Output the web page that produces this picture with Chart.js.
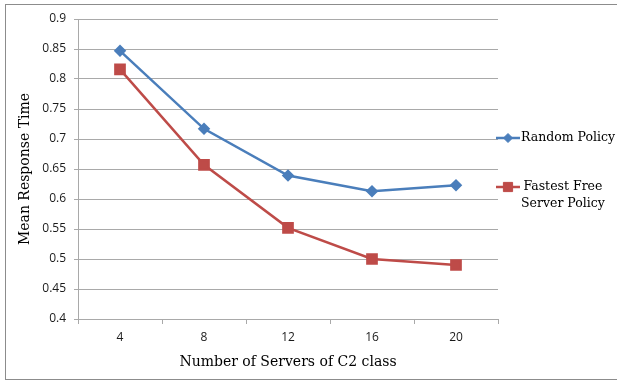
<!DOCTYPE html>
<html>
<head>
<meta charset="utf-8">
<script src="https://cdn.jsdelivr.net/npm/chart.js@4.4.1/dist/chart.umd.min.js"></script>
<style>
  html, body { margin: 0; padding: 0; background: #ffffff; }
  #wrap { position: relative; width: 617px; height: 381px; }
  canvas { display: block; }
</style>
</head>
<body>
<div id="wrap"><canvas id="chart" width="617" height="381"></canvas></div>
<script>
// Number of C2-class servers
const servers = ['4', '8', '12', '16', '20'];
// Mean response time under each dispatching policy
const randomPolicy = [0.847, 0.717, 0.639, 0.613, 0.623];
const fastestFreePolicy = [0.816, 0.657, 0.552, 0.500, 0.490];
// Series names and their wrapped legend lines
const seriesNames = ['Random Policy', 'Fastest Free Server Policy'];
const legendLines = [['Random Policy'], ['Fastest Free', 'Server Policy']];
// Value axis ticks
const yTicks = [0.4, 0.45, 0.5, 0.55, 0.6, 0.65, 0.7, 0.75, 0.8, 0.85, 0.9];

const BLUE = '#4a7ebb';
const RED = '#be4b48';
const GRID = '#a9a9a9';
const SERIF = '"DejaVu Serif", "Liberation Serif", serif';
const SANS = '"Open Sans", "Liberation Sans", sans-serif';

// Outer frame and white background
const framePlugin = {
  id: 'frame',
  beforeDraw(chart) {
    const ctx = chart.ctx;
    ctx.save();
    ctx.fillStyle = '#ffffff';
    ctx.fillRect(0, 0, chart.width, chart.height);
    ctx.strokeStyle = '#8c8c8c';
    ctx.lineWidth = 1;
    ctx.strokeRect(5.5, 4.5, chart.width + 10, 375);
    ctx.restore();
  }
};

// Legend on the right with wrapped, centred labels
const sideLegend = {
  id: 'sideLegend',
  afterDraw(chart) {
    const ctx = chart.ctx;
    const area = chart.chartArea;
    const x0 = area.right - 2;
    const lineLen = 24;
    const rowY = [138, 187];
    const lineGap = 17;
    ctx.save();
    chart.data.datasets.forEach((ds, i) => {
      const y = rowY[i];
      ctx.strokeStyle = ds.borderColor;
      ctx.fillStyle = ds.backgroundColor;
      ctx.lineWidth = 2.5;
      ctx.beginPath();
      ctx.moveTo(x0, y);
      ctx.lineTo(x0 + lineLen, y);
      ctx.stroke();
      ctx.lineWidth = 1;
      Chart.helpers.drawPoint(ctx, {
        pointStyle: ds.pointStyle,
        radius: ds.pointRadius,
        borderWidth: 1
      }, x0 + lineLen / 2, y);

      ctx.font = '12.5px ' + SERIF;
      ctx.textBaseline = 'middle';
      ctx.textAlign = 'center';
      ctx.fillStyle = '#000000';
      const lines = legendLines[i];
      const textLeft = x0 + lineLen + 1;
      const maxW = Math.max(...lines.map(l => ctx.measureText(l).width));
      lines.forEach((l, k) => {
        ctx.fillText(l, textLeft + maxW / 2, y + k * lineGap);
      });
    });
    ctx.restore();
  }
};

new Chart(document.getElementById('chart'), {
  type: 'line',
  data: {
    labels: servers,
    datasets: [
      {
        label: seriesNames[0],
        data: randomPolicy,
        borderColor: BLUE,
        backgroundColor: BLUE,
        borderWidth: 2.5,
        pointStyle: 'rectRot',
        pointRadius: 4.5,
        pointHoverRadius: 4.5,
        tension: 0
      },
      {
        label: seriesNames[1],
        data: fastestFreePolicy,
        borderColor: RED,
        backgroundColor: RED,
        borderWidth: 2.5,
        pointStyle: 'rect',
        pointRadius: 6.5,
        pointHoverRadius: 6.5,
        tension: 0
      }
    ]
  },
  options: {
    responsive: false,
    animation: false,
    devicePixelRatio: 1,
    layout: { padding: { left: 0, top: 19, right: 119, bottom: 0 } },
    plugins: {
      legend: { display: false },
      tooltip: { enabled: false }
    },
    scales: {
      x: {
        type: 'category',
        offset: true,
        afterFit(scale) { scale.height = 62; },
        border: { display: true, color: GRID, width: 1 },
        grid: {
          offset: true,
          drawOnChartArea: false,
          drawTicks: true,
          tickLength: 5,
          color: GRID
        },
        ticks: {
          color: '#1a1a1a',
          font: { family: SANS, size: 12 },
          padding: 6,
          maxRotation: 0
        },
        title: {
          display: true,
          text: 'Number of Servers of C2 class',
          color: '#000000',
          font: { family: SERIF, size: 14 },
          padding: { top: 0, bottom: 10 }
        }
      },
      y: {
        min: 0.4,
        max: 0.9,
        afterFit(scale) { scale.width = 78; },
        afterBuildTicks(scale) { scale.ticks = yTicks.map(v => ({ value: v })); },
        border: { display: true, color: GRID, width: 1 },
        grid: {
          color: GRID,
          drawTicks: true,
          tickLength: 4
        },
        ticks: {
          color: '#1a1a1a',
          font: { family: SANS, size: 12 },
          padding: 8,
          callback: v => String(Number(v.toFixed(2)))
        },
        title: {
          display: true,
          text: 'Mean Response Time',
          color: '#000000',
          font: { family: SERIF, size: 14 },
          padding: { top: 17, bottom: 0 }
        }
      }
    }
  },
  plugins: [framePlugin, sideLegend]
});
</script>
</body>
</html>
